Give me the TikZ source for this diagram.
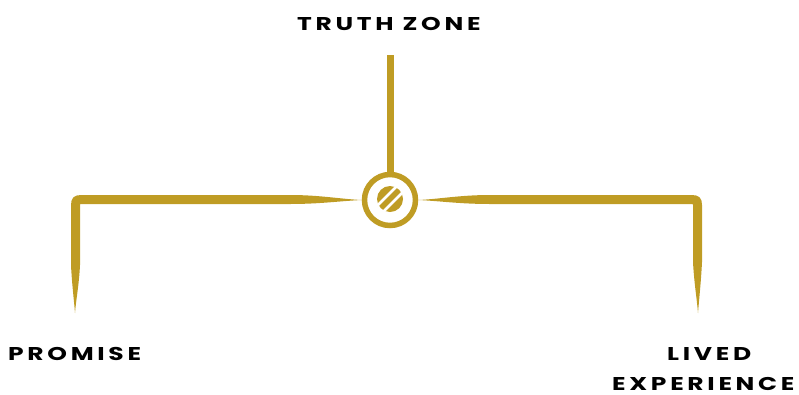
\documentclass[tikz,border=0pt]{standalone}
\usepackage{fontspec}
\setmainfont{Poppins}[LetterSpace=20,FakeStretch=1.35]
\definecolor{gold}{RGB}{191,156,36}
\begin{document}
\begin{tikzpicture}[x=1pt,y=-1pt,
  lbl/.style={font=\fontsize{18.5}{22}\selectfont\bfseries, text=black, inner sep=0pt, anchor=base west},
  goldfill/.style={fill=gold, draw=none}]
\useasboundingbox (0,0) rectangle (799,394);
% hub
\node[circle, draw=gold, line width=5.5pt, minimum size=51pt, inner sep=0pt] (hub) at (390,200) {};
\fill[gold] (390,199) circle (13);
\draw[white, line width=2.6pt] (377,206) -- (397,186);
\draw[white, line width=2.6pt] (383,212) -- (403,192);
% top stem
\coordinate (top) at (390,55);
\draw[gold, line width=7pt] (top) -- (hub.north);
% left bracket
\coordinate (lt) at (75,313);
\fill[gold] (hub.west) .. controls (340,199) and (320,195) .. (290,195)
  -- (81,195) .. controls (74,195) and (71,198) .. (71,205)
  -- (71,265) .. controls (72,285) and (74,300) .. (lt)
  .. controls (76,300) and (79,285) .. (80,265)
  -- (80,205) .. controls (80,204) and (80,204) .. (82,204)
  -- (290,204) .. controls (320,204) and (340,201) .. (hub.west) -- cycle;
% right bracket
\coordinate (rt) at (698,313);
\fill[gold] (hub.east) .. controls (440,199) and (460,195) .. (490,195)
  -- (692,195) .. controls (699,195) and (702,198) .. (702,205)
  -- (702,262) .. controls (701,282) and (699,300) .. (rt)
  .. controls (697,300) and (694,282) .. (693,262)
  -- (693,205) .. controls (693,204) and (693,204) .. (691,204)
  -- (490,204) .. controls (460,204) and (440,201) .. (hub.east) -- cycle;
% labels
\node[lbl] (tz) at (297,30) {TRUTH ZONE};
\node[lbl] (pr) at (8,360) {PROMISE};
\node[lbl] (lv) at (667,360) {LIVED};
\node[lbl] (ex) at (612,390) {EXPERIENCE\kern-4pt};
\end{tikzpicture}
\end{document}
